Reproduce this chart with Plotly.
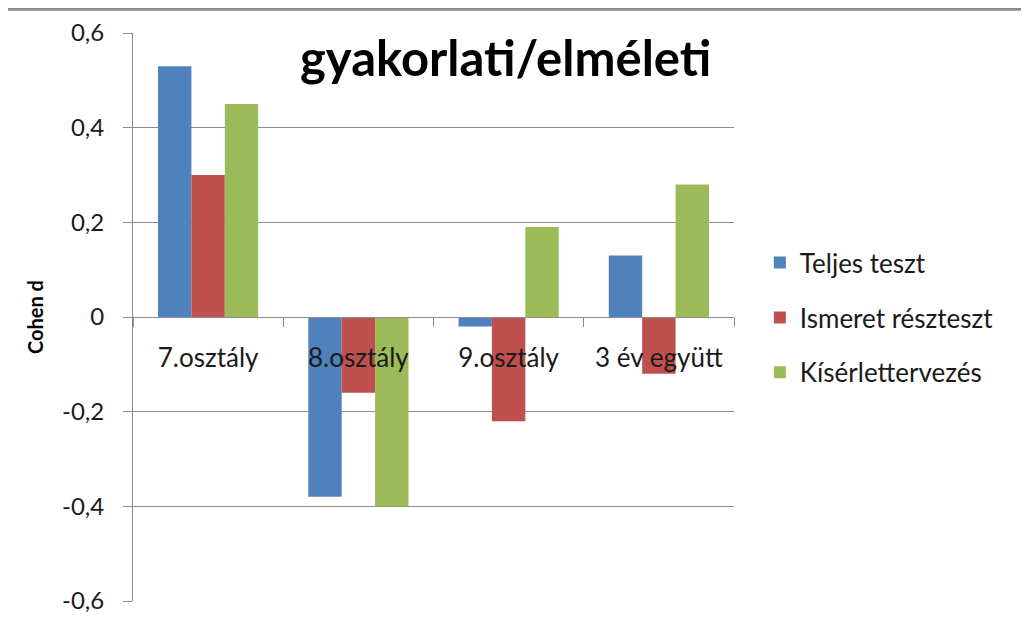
import plotly.graph_objects as go

CATEGORIES = ['7.osztály', '8.osztály', '9.osztály', '3 év együtt']
SERIES = ['Teljes teszt', 'Ismeret részteszt', 'Kísérlettervezés']
VALUES = {
    'Teljes teszt': [0.53, -0.38, -0.02, 0.13],
    'Ismeret részteszt': [0.30, -0.16, -0.22, -0.12],
    'Kísérlettervezés': [0.45, -0.40, 0.19, 0.28],
}
COLORS = ['#4F81BD', '#C0504D', '#9BBB59']
Y_TICKS = [-0.6, -0.4, -0.2, 0, 0.2, 0.4, 0.6]
Y_TICKTEXT = ['-0,6', '-0,4', '-0,2', '0', '0,2', '0,4', '0,6']

FONT = "Lato, 'Open Sans', sans-serif"
GRID = '#8C8C8C'

fig = go.Figure()
for i, name in enumerate(SERIES):
    fig.add_trace(go.Bar(
        x=CATEGORIES,
        y=VALUES[name],
        name=name,
        marker=dict(color=COLORS[i], line=dict(width=0)),
        legendgroup=name,
    ))

fig.update_layout(
    barmode='group',
    bargap=0.333,
    bargroupgap=0,
    width=1029,
    height=630,
    paper_bgcolor='white',
    plot_bgcolor='white',
    font=dict(family=FONT, size=24, color='#1a1a1a'),
    margin=dict(l=125, r=303, t=25, b=37, autoexpand=False),
    legend=dict(
        x=1.043, y=0.637, xanchor='left', yanchor='top',
        font=dict(size=26, color='#1a1a1a'),
        tracegroupgap=18,
        itemwidth=30,
        bgcolor='rgba(0,0,0,0)',
    ),
    xaxis=dict(
        anchor='free',
        position=0.5,
        showline=True,
        linecolor=GRID,
        linewidth=1,
        ticks='outside',
        tickson='boundaries',
        ticklen=9,
        tickcolor=GRID,
        ticklabelstandoff=18,
        showgrid=False,
        tickfont=dict(size=26),
    ),
    yaxis=dict(
        range=[-0.6, 0.6],
        tickvals=Y_TICKS,
        ticktext=Y_TICKTEXT,
        showgrid=True,
        gridcolor=GRID,
        gridwidth=1,
        zeroline=False,
        showline=True,
        linecolor=GRID,
        ticks='outside',
        ticklen=9,
        tickcolor=GRID,
        ticklabelstandoff=14,
        tickfont=dict(size=24),
    ),
    annotations=[
        dict(
            text='<b>gyakorlati/elméleti</b>',
            xref='paper', yref='paper',
            x=0.62, y=0.958, xanchor='center', yanchor='middle',
            showarrow=False,
            font=dict(size=49, color='black', family=FONT),
        ),
        dict(
            text='<b>Cohen d</b>',
            xref='paper', yref='paper',
            x=-0.163, y=0.5, xanchor='center', yanchor='middle',
            textangle=-90,
            showarrow=False,
            font=dict(size=20, color='black', family=FONT),
        ),
    ],
    shapes=[
        dict(
            type='line', xref='paper', yref='paper',
            x0=-0.25, x1=1.6, y0=1.042, y1=1.042,
            line=dict(color='#8C8C8C', width=3),
        ),
    ],
)

fig.write_html("out.html")
